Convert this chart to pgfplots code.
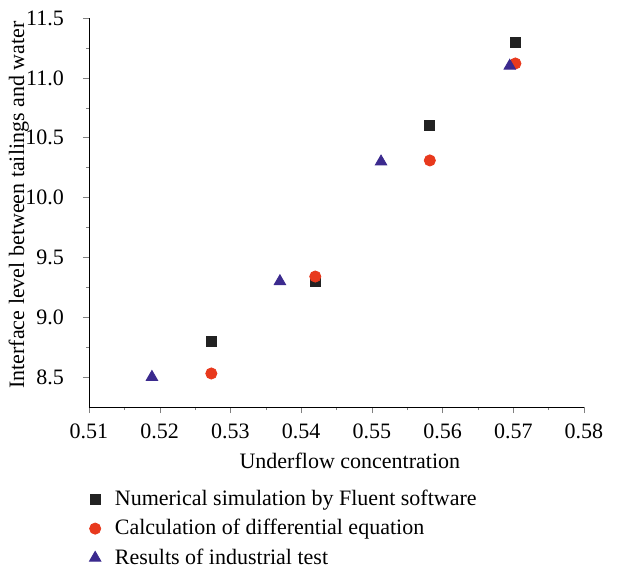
\documentclass[border=0pt]{standalone}
\usepackage{fontspec}
\setmainfont{Liberation Serif}
\usepackage{pgfplots}
\pgfplotsset{compat=1.18}

\definecolor{simblack}{HTML}{222222}
\definecolor{calcred}{HTML}{E8391D}
\definecolor{testblue}{HTML}{3B2A8E}

\begin{document}
\begin{tikzpicture}
\path[use as bounding box] (-44.5pt,-83pt) rectangle (271.5pt,203.5pt);
\begin{axis}[
    at={(0,0)}, anchor=south west,
    scale only axis,
    width=247.5pt, height=194.5pt,
    xmin=0.51, xmax=0.58,
    ymin=8.25, ymax=11.5,
    axis lines=left,
    axis line style={-, thin},
    tick align=outside,
    major tick length=3pt,
    minor tick length=1.6pt,
    xtick={0.51,0.52,...,0.58},
    ytick={8.5,9.0,...,11.5},
    minor tick num=1,
    font=\fontsize{11}{13}\selectfont,
    /pgf/number format/assume math mode=true,
    xticklabel style={yshift=-2pt, /pgf/number format/.cd, fixed, fixed zerofill, precision=2},
    yticklabel style={xshift=-6pt, /pgf/number format/.cd, fixed, fixed zerofill, precision=1},
    scaled x ticks=false,
    xlabel={Underflow concentration},
    ylabel={Interface level between tailings and water},
    xlabel style={at={(axis description cs:0.527,-0.139)}, anchor=center},
    ylabel style={at={(axis description cs:-0.142,0.519)}, anchor=center},
    legend style={at={(axis description cs:-0.012,-0.192)}, anchor=north west, draw=none,
        row sep=1.4pt, font=\fontsize{11}{13}\selectfont,
        /tikz/every odd column/.append style={column sep=5pt}},
    legend cell align=left,
]
\addplot[only marks, mark=square*, mark size=2.5pt, draw=simblack, fill=simblack]
  coordinates {(0.5273,8.80) (0.5420,9.30) (0.5582,10.60) (0.5703,11.30)};
\addlegendentry{Numerical simulation by Fluent software}
\addplot[only marks, mark=*, mark size=2.8pt, draw=calcred, fill=calcred]
  coordinates {(0.5273,8.53) (0.5420,9.34) (0.5582,10.31) (0.5703,11.12)};
\addlegendentry{Calculation of differential equation}
\addplot[only marks, mark=triangle*, mark size=3.3pt, draw=testblue, fill=testblue]
  coordinates {(0.5189,8.50) (0.5370,9.30) (0.5513,10.30) (0.5695,11.10)};
\addlegendentry{Results of industrial test}
\end{axis}
\end{tikzpicture}
\end{document}
